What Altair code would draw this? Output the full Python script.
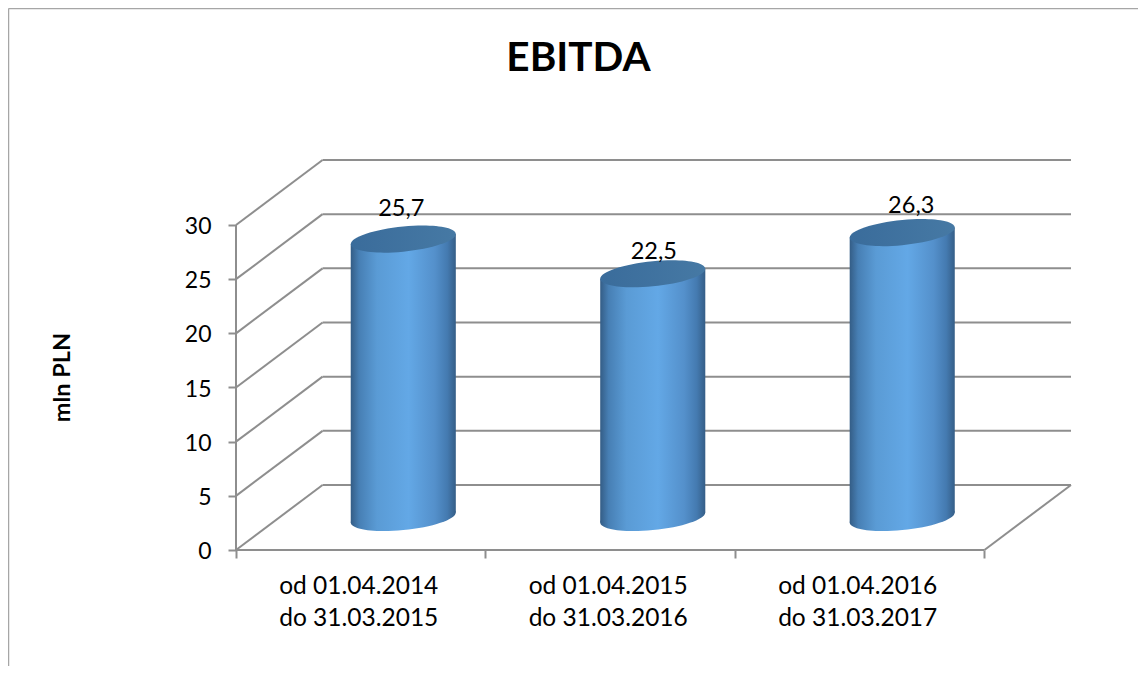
import altair as alt
import pandas as pd

CATS = ["od 01.04.2014\ndo 31.03.2015", "od 01.04.2015\ndo 31.03.2016", "od 01.04.2016\ndo 31.03.2017"]
VALUES = [25.7, 22.5, 26.3]
LABELS = ["25,7", "22,5", "26,3"]
TICKS = [0, 5, 10, 15, 20, 25, 30]
TITLE = "EBITDA"
YTITLE = "mln PLN"

FONT = "Lato"
GREY = "#8e8e8e"
DX, DY = 0.347, 6.0     # depth of the 3D box in axis units
HW = 0.2106             # half cylinder width
SLOPE = 0.46            # tilt of the ellipses, in y units
XD = [0, 3 + DX]
YD = [0, 36]

X_AXIS = alt.Axis(values=[0, 1, 2, 3], labels=False, domain=False, grid=False, title=None,
                  tickColor=GREY, tickWidth=2, tickSize=8)
Y_AXIS = alt.Axis(values=TICKS, domain=False, grid=False, tickColor=GREY, tickWidth=2, tickSize=8,
                  labelFont=FONT, labelFontSize=23, labelColor="black", labelPadding=17, labelOffset=1.5,
                  title=YTITLE, titleFont=FONT, titleFontSize=23.5, titleFontWeight="bold", titleColor="black",
                  titleX=-162, titleY=217, titleAngle=270)
X = lambda f="x", **k: alt.X(f"{f}:Q", scale=alt.Scale(domain=XD), axis=X_AXIS, **k)
Y = lambda f="y", **k: alt.Y(f"{f}:Q", scale=alt.Scale(domain=YD), axis=Y_AXIS, stack=None, **k)

# box lines
lines = []
for t in TICKS:
    lines.append(dict(x=DX, y=t + DY, x2=3 + DX, y2=t + DY))
    lines.append(dict(x=0, y=t, x2=DX, y2=t + DY))
lines += [dict(x=0, y=0, x2=3, y2=0), dict(x=3, y=0, x2=3 + DX, y2=DY), dict(x=0, y=0, x2=0, y2=30)]
rules = alt.Chart(pd.DataFrame(lines)).mark_rule(color=GREY, strokeWidth=2).encode(
    x=X(), y=Y(), x2="x2:Q", y2="y2:Q")

frame_l = alt.Chart(pd.DataFrame({"a": [0]})).mark_rule(color="#a6a6a6", strokeWidth=1.5).encode(
    x=alt.value(-227.5), y=alt.value(-151.5), y2=alt.value(520))
frame_t = alt.Chart(pd.DataFrame({"a": [0]})).mark_rule(color="#a6a6a6", strokeWidth=1.5).encode(
    x=alt.value(-227.5), x2=alt.value(910), y=alt.value(-151.5))

# cylinders
centres = [i + 0.5 + DX / 2 - 0.003 for i in range(3)]
side = alt.LinearGradient(gradient="linear", x1=0, x2=1, y1=0, y2=0, stops=[
    alt.GradientStop(offset=0, color="#345d86"),
    alt.GradientStop(offset=0.08, color="#477fb4"),
    alt.GradientStop(offset=0.25, color="#5a9bd5"),
    alt.GradientStop(offset=0.55, color="#63a8e6"),
    alt.GradientStop(offset=0.8, color="#5490cb"),
    alt.GradientStop(offset=0.92, color="#447ab0"),
    alt.GradientStop(offset=1, color="#355e87"),
])
top_fill = alt.LinearGradient(gradient="linear", x1=0, x2=1, y1=0, y2=0, stops=[
    alt.GradientStop(offset=0, color="#3a6c9b"),
    alt.GradientStop(offset=1, color="#4679a4"),
])

def ellipse(m=0.095, b=0.24, k=0.5523):
    pts = [(-1, 0), (-1, -k), (-k, -1), (0, -1), (k, -1), (1, -k), (1, 0),
           (1, k), (k, 1), (0, 1), (-k, 1), (-1, k), (-1, 0)]
    p = [(u, -m * u + b * v) for u, v in pts]
    f = lambda q: f"{q[0]:.4f},{q[1]:.4f}"
    d = "M" + f(p[0])
    for i in range(1, 13, 3):
        d += "C" + f(p[i]) + " " + f(p[i + 1]) + " " + f(p[i + 2])
    return d + "Z"

SHAPE = ellipse()
SIZE = 105.0 ** 2
base_df = pd.DataFrame({"x": centres, "y": [DY / 2] * 3})
top_df = pd.DataFrame({"x": centres, "y": [v + DY / 2 for v in VALUES]})

bottoms = alt.Chart(base_df).mark_point(shape=SHAPE, size=SIZE, filled=True, fill=side, opacity=1, strokeWidth=0).encode(x=X(), y=Y())

rows = []
for i, (c, v) in enumerate(zip(centres, VALUES)):
    rows.append(dict(g=i, x=c - HW, y=v + DY / 2 - SLOPE, y2=DY / 2 - SLOPE))
    rows.append(dict(g=i, x=c + HW, y=v + DY / 2 + SLOPE, y2=DY / 2 + SLOPE))
bodies = alt.Chart(pd.DataFrame(rows)).mark_area(fill=side, orient="vertical", opacity=1).encode(
    x=X(), y=Y(), y2="y2:Q", detail="g:N")

tops = alt.Chart(top_df).mark_point(shape=SHAPE, size=SIZE, filled=True, fill=top_fill, opacity=1, strokeWidth=0).encode(x=X(), y=Y())

# value labels (placed by hand in the source chart)
LABEL_OFFSETS = [(-2, -30), (1, -22), (9, -27)]
value_labels = [
    alt.Chart(pd.DataFrame({"x": [c], "y": [v + DY / 2], "t": [l]})).mark_text(
        font=FONT, fontSize=23.5, color="black", dx=o[0], dy=o[1]).encode(x=X(), y=Y(), text="t:N")
    for c, v, l, o in zip(centres, VALUES, LABELS, LABEL_OFFSETS)
]

cat_labels = alt.Chart(pd.DataFrame({"x": [i + 0.5 for i in range(3)], "y": [0] * 3, "t": CATS})).mark_text(
    font=FONT, fontSize=24.5, color="black", lineBreak="\n", lineHeight=32, baseline="top", dy=25, dx=-2
).encode(x=X(), y=Y(), text="t:N")

chart = alt.layer(frame_l, frame_t, rules, bottoms, bodies, tops, *value_labels, cat_labels).properties(
    width=835, height=390,
    title=alt.TitleParams(TITLE, font=FONT, fontSize=40.5, fontWeight="bold", color="black",
                          anchor="middle", frame="group", dx=-75, dy=72, offset=0),
    padding={"left": 228, "top": 152, "right": 67, "bottom": 116},
    autosize=alt.AutoSizeParams(type="none"),
).configure_view(stroke=None)

chart.save("out.html", embed_options={"renderer": "svg", "actions": False})
